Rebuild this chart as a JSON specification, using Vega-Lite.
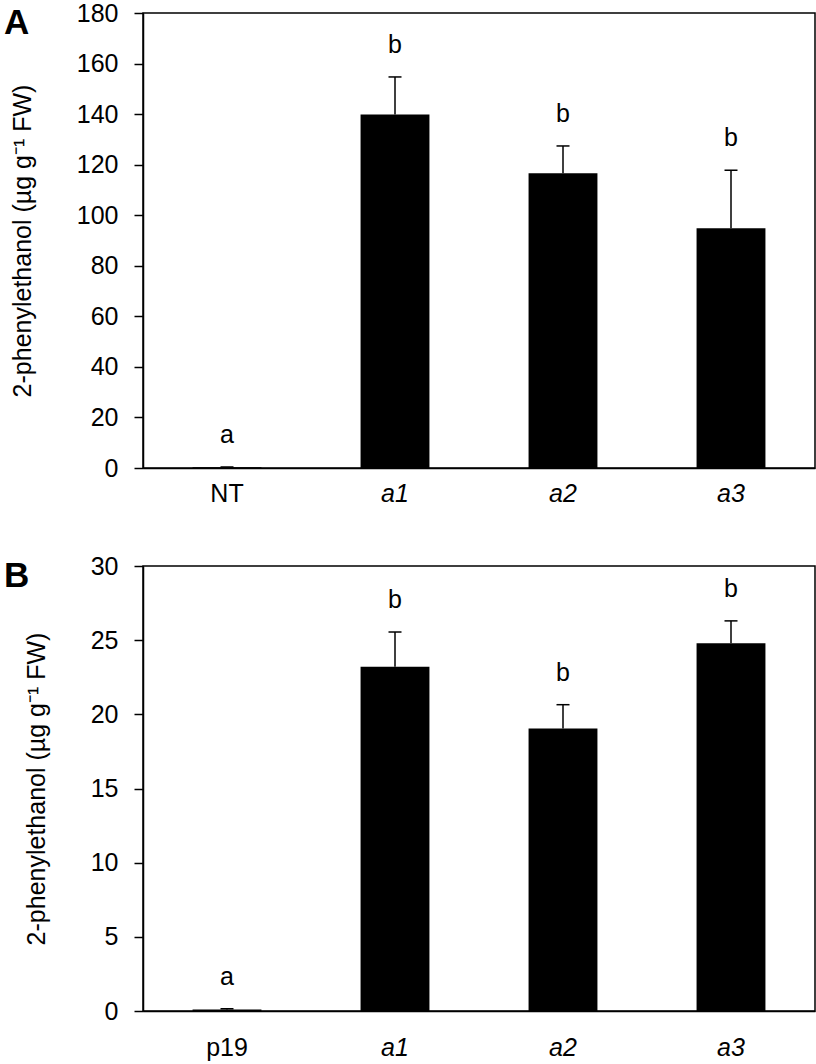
{
  "$schema": "https://vega.github.io/schema/vega-lite/v6.json",
  "padding": {"left": 3, "top": 0, "right": 0, "bottom": 0},
  "background": "white",
  "spacing": 98,
  "bounds": "flush",
  "config": {
    "font": "Liberation Sans",
    "view": {"stroke": "black", "strokeWidth": 1.5},
    "axis": {
      "domainColor": "black",
      "domainWidth": 1.5,
      "tickColor": "black",
      "tickWidth": 1.5,
      "labelColor": "black",
      "titleColor": "black",
      "labelFont": "Liberation Sans",
      "titleFont": "Liberation Sans",
      "labelFontSize": 25,
      "titleFontSize": 25,
      "titleFontWeight": "normal",
      "grid": false
    },
    "title": {"font": "Liberation Sans", "color": "black"}
  },
  "datasets": {
    "A": [
      {"group": "NT", "mean": 0.3, "upper": 0.4, "letter": "a"},
      {"group": "a1", "mean": 139.8, "upper": 154.7, "letter": "b"},
      {"group": "a2", "mean": 116.6, "upper": 127.4, "letter": "b"},
      {"group": "a3", "mean": 94.8, "upper": 117.8, "letter": "b"}
    ],
    "B": [
      {"group": "p19", "mean": 0.1, "upper": 0.15, "letter": "a"},
      {"group": "a1", "mean": 23.2, "upper": 25.55, "letter": "b"},
      {"group": "a2", "mean": 19.05, "upper": 20.65, "letter": "b"},
      {"group": "a3", "mean": 24.8, "upper": 26.3, "letter": "b"}
    ]
  },
  "vconcat": [
    {
      "width": 672,
      "height": 455,
      "title": {"text": "A", "anchor": "start", "frame": "group", "dx": -139, "dy": 72, "fontSize": 35, "fontWeight": "bold", "baseline": "alphabetic"},
      "data": {"name": "A"},
      "encoding": {
        "x": {
          "field": "group", "type": "nominal", "sort": null,
          "scale": {"paddingInner": 0.59, "paddingOuter": 0.295},
          "axis": {
            "title": null, "ticks": false, "labelAngle": 0, "labelPadding": 13,
            "labelFontStyle": {"condition": {"test": "datum.value === 'NT' || datum.value === 'p19'", "value": "normal"}, "value": "italic"}
          }
        }
      },
      "layer": [
        {
          "mark": {"type": "bar", "color": "black"},
          "encoding": {
            "y": {
              "field": "mean", "type": "quantitative",
              "scale": {"domain": [0, 180], "nice": false},
              "axis": {"values": [0, 20, 40, 60, 80, 100, 120, 140, 160, 180], "tickSize": 9, "labelPadding": 16, "title": "2-phenylethanol (µg g⁻¹ FW)", "titlePadding": 41}
            }
          }
        },
        {
          "mark": {"type": "rule", "color": "black", "strokeWidth": 1.5},
          "encoding": {"y": {"field": "mean", "type": "quantitative"}, "y2": {"field": "upper"}}
        },
        {
          "mark": {"type": "tick", "color": "black", "size": 13, "thickness": 1.5, "opacity": 1},
          "encoding": {"y": {"field": "upper", "type": "quantitative"}}
        },
        {
          "mark": {"type": "text", "fontSize": 25, "dy": -32, "baseline": "middle", "color": "black"},
          "encoding": {"y": {"field": "upper", "type": "quantitative"}, "text": {"field": "letter"}}
        }
      ]
    },
    {
      "width": 672,
      "height": 445,
      "title": {"text": "B", "anchor": "start", "frame": "group", "dx": -139, "dy": 72, "fontSize": 35, "fontWeight": "bold", "baseline": "alphabetic"},
      "data": {"name": "B"},
      "encoding": {
        "x": {
          "field": "group", "type": "nominal", "sort": null,
          "scale": {"paddingInner": 0.59, "paddingOuter": 0.295},
          "axis": {
            "title": null, "ticks": false, "labelAngle": 0, "labelPadding": 24,
            "labelFontStyle": {"condition": {"test": "datum.value === 'NT' || datum.value === 'p19'", "value": "normal"}, "value": "italic"}
          }
        }
      },
      "layer": [
        {
          "mark": {"type": "bar", "color": "black"},
          "encoding": {
            "y": {
              "field": "mean", "type": "quantitative",
              "scale": {"domain": [0, 30], "nice": false},
              "axis": {"values": [0, 5, 10, 15, 20, 25, 30], "tickSize": 9, "labelPadding": 16, "title": "2-phenylethanol (µg g⁻¹ FW)", "titlePadding": 41}
            }
          }
        },
        {
          "mark": {"type": "rule", "color": "black", "strokeWidth": 1.5},
          "encoding": {"y": {"field": "mean", "type": "quantitative"}, "y2": {"field": "upper"}}
        },
        {
          "mark": {"type": "tick", "color": "black", "size": 13, "thickness": 1.5, "opacity": 1},
          "encoding": {"y": {"field": "upper", "type": "quantitative"}}
        },
        {
          "mark": {"type": "text", "fontSize": 25, "dy": -32, "baseline": "middle", "color": "black"},
          "encoding": {"y": {"field": "upper", "type": "quantitative"}, "text": {"field": "letter"}}
        }
      ]
    }
  ]
}
